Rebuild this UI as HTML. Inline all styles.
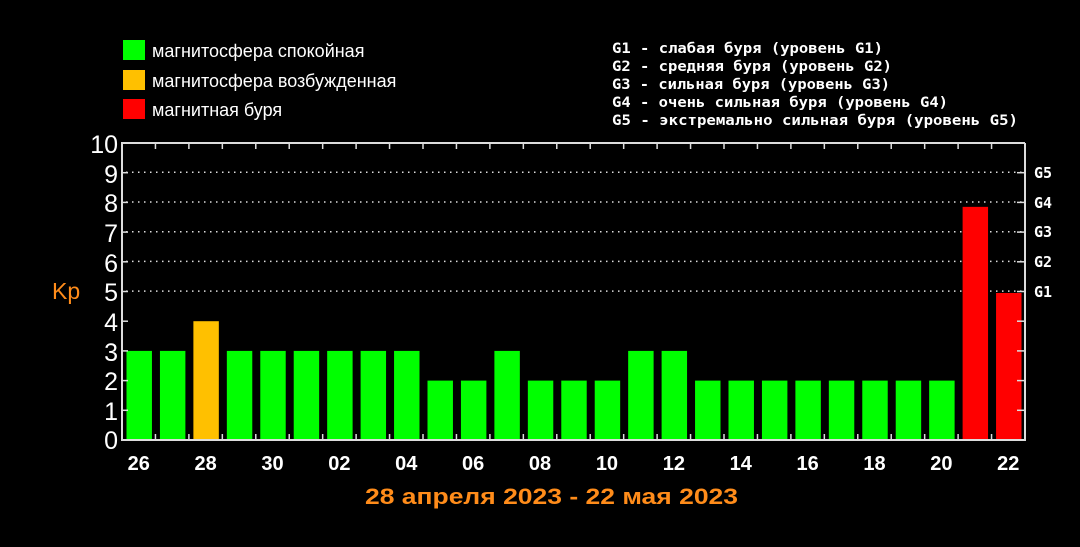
<!DOCTYPE html>
<html><head><meta charset="utf-8"><style>
body{margin:0;background:#000;width:1080px;height:542px;overflow:hidden}
</style></head><body>
<svg width="1080" height="542" xmlns="http://www.w3.org/2000/svg" font-family="Liberation Sans, DejaVu Sans, sans-serif">
<rect width="1080" height="542" fill="#000"/>
<rect x="123" y="40" width="22" height="20" fill="#00ff00"/>
<rect x="123" y="70" width="22" height="20" fill="#ffc000"/>
<rect x="123" y="99" width="22" height="20" fill="#ff0000"/>
<g fill="#fff" font-size="18">
<text x="152" y="57">магнитосфера спокойная</text>
<text x="152" y="87">магнитосфера возбужденная</text>
<text x="152" y="116">магнитная буря</text>
</g>
<g fill="#fff" font-size="14" font-weight="bold" font-family="DejaVu Sans Mono, Liberation Mono, monospace" lengthAdjust="spacingAndGlyphs">
<text x="612" y="53" textLength="271" lengthAdjust="spacingAndGlyphs">G1 - слабая буря (уровень G1)</text>
<text x="612" y="71" textLength="280" lengthAdjust="spacingAndGlyphs">G2 - средняя буря (уровень G2)</text>
<text x="612" y="89" textLength="278" lengthAdjust="spacingAndGlyphs">G3 - сильная буря (уровень G3)</text>
<text x="612" y="107" textLength="336" lengthAdjust="spacingAndGlyphs">G4 - очень сильная буря (уровень G4)</text>
<text x="612" y="125" textLength="406" lengthAdjust="spacingAndGlyphs">G5 - экстремально сильная буря (уровень G5)</text>
</g>
<g stroke="#ddd" stroke-width="1.5" stroke-dasharray="1.5 4.5">
<line x1="126" x2="1022" y1="172.3" y2="172.3"/>
<line x1="126" x2="1022" y1="202" y2="202"/>
<line x1="126" x2="1022" y1="231.7" y2="231.7"/>
<line x1="126" x2="1022" y1="261.4" y2="261.4"/>
<line x1="126" x2="1022" y1="291.1" y2="291.1"/>
</g>
<g id="bars"></g>
<g stroke="#ddd" stroke-width="2" fill="none">
<polyline points="1025,143 122,143 122,440 1025,440 1025,143"/>
</g>
<g id="ticks" stroke="#ddd" stroke-width="1.5"></g>
<g fill="#fff" font-size="25" text-anchor="end">
<text x="118" y="153">10</text><text x="118" y="183">9</text><text x="118" y="212">8</text>
<text x="118" y="242">7</text><text x="118" y="272">6</text><text x="118" y="301">5</text>
<text x="118" y="331">4</text><text x="118" y="361">3</text><text x="118" y="390">2</text>
<text x="118" y="420">1</text><text x="118" y="449">0</text>
</g>
<g fill="#fff" font-size="15" font-weight="bold" font-family="DejaVu Sans Mono, Liberation Mono, monospace">
<text x="1034" y="178">G5</text><text x="1034" y="208">G4</text><text x="1034" y="237">G3</text>
<text x="1034" y="267">G2</text><text x="1034" y="297">G1</text>
</g>
<text x="52" y="299" fill="#ff8c1a" font-size="23">Kp</text>
<g id="xl" fill="#fff" font-size="20" font-weight="bold" text-anchor="middle"></g>
<text x="365" y="504" fill="#ff8c1a" font-size="22" font-weight="bold" textLength="373" lengthAdjust="spacingAndGlyphs">28 апреля 2023 - 22 мая 2023</text>
<script>
var v=[3,3,4,3,3,3,3,3,3,2,2,3,2,2,2,3,3,2,2,2,2,2,2,2,2,7.85,4.95];
var d=["26","","28","","30","","02","","04","","06","","08","","10","","12","","14","","16","","18","","20","","22"];
var ns="http://www.w3.org/2000/svg",w=903/27,b=document.getElementById("bars"),t=document.getElementById("ticks"),xl=document.getElementById("xl");
function el(p,n,a,tx){var e=document.createElementNS(ns,n);for(var k in a)e.setAttribute(k,a[k]);if(tx)e.textContent=tx;p.appendChild(e);}
v.forEach(function(k,i){var x=122+i*w;var c=k>=5||i>24?"#ff0000":(k>=4?"#ffc000":"#00ff00");
el(b,"rect",{x:x+4.5,y:440-k*29.7,width:w-8,height:k*29.7,fill:c});
if(d[i])el(xl,"text",{x:x+w/2,y:470},d[i]);
if(i>0){el(t,"line",{x1:x,x2:x,y1:143,y2:149});el(t,"line",{x1:x,x2:x,y1:434,y2:440});}});
for(var j=1;j<10;j++){var y=440-j*29.7;el(t,"line",{x1:1017,x2:1025,y1:y,y2:y});el(t,"line",{x1:122,x2:128,y1:y,y2:y});}
</script>
</svg>
</body></html>
